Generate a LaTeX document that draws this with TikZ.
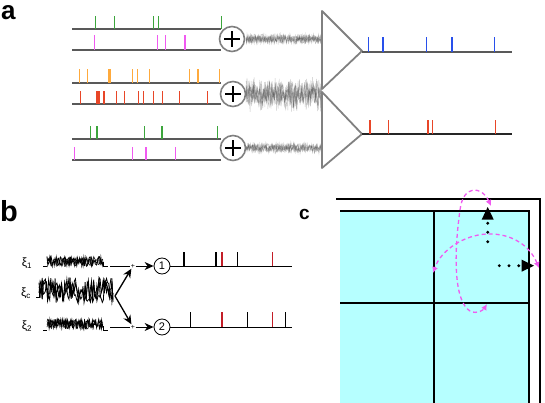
\documentclass[tikz,border=0pt]{standalone}
\usepackage{fontspec}
\setmainfont{Liberation Sans}
\usetikzlibrary{arrows.meta}
\definecolor{spkgreen}{RGB}{60,165,60}
\definecolor{spkmagenta}{RGB}{240,90,240}
\definecolor{spkorange}{RGB}{255,170,60}
\definecolor{spkred}{RGB}{232,70,40}
\definecolor{spkblue}{RGB}{40,80,235}
\definecolor{darkred}{RGB}{195,30,40}
\definecolor{roomcyan}{RGB}{182,255,255}
\definecolor{loopmagenta}{RGB}{240,90,240}
\tikzstyle{spike}=[line width=1.5pt]
\tikzstyle{train}=[line width=1.3pt, draw=black!65]
\tikzstyle{sumnode}=[
      circle,
      draw = black!50,
      line width = 1.6pt,
      minimum size = 25pt,
      inner sep = 0pt,
      fill = white,
      path picture = {
        \draw[black, line width=1.8pt]
          ([xshift=-8pt]path picture bounding box.center) -- ([xshift=8pt]path picture bounding box.center)
          ([yshift=-8pt]path picture bounding box.center) -- ([yshift=8pt]path picture bounding box.center);
      }
      ]
\tikzstyle{noise}=[black!75, line width=0.4pt, opacity=0.3]
\tikzstyle{amp}=[draw=black!50, line width=1.8pt, line join=round]
\tikzstyle{panel}=[inner sep=0pt, anchor=base west, font=\bfseries]
\tikzstyle{cell}=[circle, draw, line width=0.8pt, inner sep=0pt, minimum size=16pt, font=\fontsize{11}{11}\selectfont]
\tikzstyle{sumb}=[inner sep=0.5pt, font=\fontsize{7}{7}\selectfont]
\tikzstyle{xilabel}=[inner sep=0pt, font=\fontsize{12}{12}\selectfont]
\tikzstyle{grid}=[line width=1.6pt]
\tikzstyle{loop}=[
      draw = loopmagenta,
      line width = 1.3pt,
      dash pattern = on 4pt off 3pt,
      {Latex[length=6pt,width=6pt]}-{Latex[length=6pt,width=6pt]}
      ]
\newcommand{\spiketrain}[4]{\foreach \sx in {#4} \draw[spike,#1] (\sx,#2) -- (\sx,#3);}

\begin{document}
\begin{tikzpicture}[x=1pt, y=-1pt]
\useasboundingbox (0,0) rectangle (545,403);
\pgfmathsetseed{7}

% panel labels
\node [panel, font=\fontsize{26}{26}\selectfont\bfseries] (labA) at (1,20) {a};
\node [panel, font=\fontsize{29}{29}\selectfont\bfseries] (labB) at (0,222) {b};
\node [panel, font=\fontsize{19}{19}\selectfont\bfseries] (labC) at (299,219) {c};

% a: input spike trains
\foreach \y in {29,50,83,104,139,160} \draw[train] (72,\y) -- (221,\y);
\spiketrain{spkgreen}{29}{16}{95.7,114.3,153.7,158.3,221.5}
\spiketrain{spkmagenta}{50}{35}{94.7,157.7,165.7,185}
\spiketrain{spkorange}{83}{69}{79.3,87.7,108.7,110,132.7,137.3,149.3,189.7,198,219.7}
\spiketrain{spkred}{104}{91}{80.7,96.7,98,99.3,104,116.7,124.7,138.7,143.3,153.7,162.7,179.7,207.3}
\spiketrain{spkgreen}{139}{126}{90.7,97,144.7,162,217.3}
\spiketrain{spkmagenta}{160}{147}{74.7,132.7,146,175.7}

% a: summed noisy currents
\foreach \k in {1,...,5} {
  \draw[noise] plot[domain=246:322, samples=150] (\x,{39+(2+4*abs(rand))*rand});
  \draw[noise] plot[domain=246:322, samples=150] (\x,{94+(6+13*abs(rand))*rand});
  \draw[noise] plot[domain=246:322, samples=150] (\x,{148+(2+4*abs(rand))*rand});
}
\node [sumnode] (sumTop) at (232,39) {};
\node [sumnode] (sumMid) at (233,94) {};
\node [sumnode] (sumBot) at (233,148) {};

% a: two neurons
\draw[amp] (322,11) -- (362,51) -- (322,89) -- cycle;
\draw[amp] (322,92) -- (362,134) -- (322,168) -- cycle;
\draw[train] (362,52) -- (512,52);
\draw[train, draw=black!85] (362,134) -- (512,134);
\spiketrain{spkblue}{52}{37}{368.7,383,426.7,452,494.3}
\spiketrain{spkred}{134}{120}{370,388.7,428,432.3,495.7}

% b: noise sources
\node [xilabel] (xiA) at (27,263) {ξ\textsubscript{1}};
\node [xilabel] (xiC) at (26,293) {ξ\textsubscript{c}};
\node [xilabel] (xiB) at (27,326) {ξ\textsubscript{2}};
\foreach \k in {1,2,3} {
  \draw[black, line width=0.6pt] plot[domain=47:103, samples=80] (\x,{261.5+5*rand});
  \draw[black, line width=0.8pt] plot[domain=39:113, samples=70] (\x,{290+13*rand});
  \draw[black, line width=0.6pt] plot[domain=47:103, samples=80] (\x,{324+5*rand});
}
\draw[line width=0.5pt] (43,266) -- (47,266) (103,262) -- (103,266) -- (108,266);
\draw[line width=0.5pt] (36,297) -- (39,297) -- (39,286);
\draw[line width=0.5pt] (43,330) -- (47,330) (103,326) -- (103,330) -- (108,330);

% b: two cells with shared input
\coordinate (xiAend) at (110,266);
\coordinate (xiBend) at (110,327);
\coordinate (xiCend) at (115,296);
\node [sumb] (sumA) at (133,266) {+};
\node [sumb] (sumB) at (133,327) {+};
\node [cell] (cellA) at (162,266) {1};
\node [cell] (cellB) at (162,327) {2};
\coordinate (trainAend) at (292,266);
\coordinate (trainBend) at (292,327);
\draw[line width=0.7pt] (xiAend) -- (sumA);
\draw[line width=0.7pt] (xiBend) -- (sumB);
\draw[line width=0.9pt, -{Stealth[length=9pt,width=8pt]}] (sumA) -- (cellA);
\draw[line width=0.9pt, -{Stealth[length=9pt,width=8pt]}] (sumB) -- (cellB);
\draw[line width=1.3pt, -{Stealth[length=9pt,width=8pt]}] (xiCend) -- (sumA);
\draw[line width=1.3pt, -{Stealth[length=9pt,width=8pt]}] (xiCend) -- (sumB);
\draw[line width=0.8pt] (cellA) -- (trainAend);
\draw[line width=0.8pt] (cellB) -- (trainBend);
\spiketrain{black}{266}{252}{184,216,237.7}
\spiketrain{darkred}{266}{252}{222,272.7}
\spiketrain{black}{327}{312}{190.7,247.3,285.7}
\spiketrain{darkred}{327}{312}{222,272.7}

% c: state space
\fill[roomcyan] (340,211) rectangle (529,403);
\draw[grid] (336,199) -- (540,199) -- (540,403);
\draw[grid] (340,211) -- (529,211) -- (529,403);
\draw[grid] (434,211) -- (434,403);
\draw[grid] (340,303) -- (529,303);
\fill (487.7,207) -- (481.7,219.5) -- (493.7,219.5) -- cycle;
\fill (534,265.7) -- (521.7,259.7) -- (521.7,271.7) -- cycle;
\foreach \y in {223.3,232.3,241.7} \fill (487.7,\y) circle (1.6);
\foreach \x in {499.3,509,518.7} \fill (\x,265.7) circle (1.6);
\draw[loop] (491,206) .. controls (482,186) and (463,184) .. (460,210)
  .. controls (453,260) and (455,302) .. (470,311)
  .. controls (478,315) and (484,309) .. (487,304);
\draw[loop] (539,268) .. controls (530,246) and (512,233) .. (487,234)
  .. controls (464,235) and (441,250) .. (433,273);
\end{tikzpicture}
\end{document}
